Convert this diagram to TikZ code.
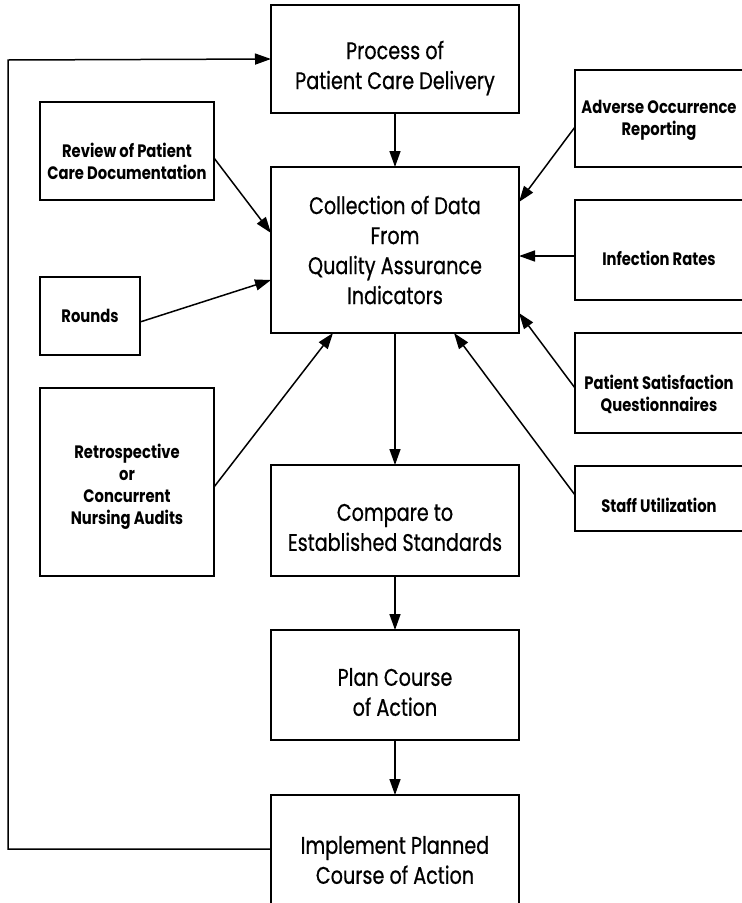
\documentclass[tikz,border=0pt]{standalone}
\usepackage{fontspec}
\setmainfont{Poppins}
\newfontfamily\bigface[FakeStretch=0.8,FakeBold=0.6]{Poppins}
\newfontfamily\smallface[FakeStretch=0.82]{Poppins}
\usetikzlibrary{arrows.meta}
\begin{document}
\begin{tikzpicture}[x=1pt,y=-1pt,
  box/.style={draw, line width=1.5pt, inner sep=0pt, outer sep=0pt},
  mainbox/.style={box, minimum width=248pt},
  sidebox/.style={box},
  maintext/.style={align=center, inner sep=0pt, font=\bigface\fontsize{24}{30}\selectfont},
  sidetext/.style={align=center, inner sep=0pt, font=\smallface\bfseries\fontsize{18}{22}\selectfont},
  flow/.style={line width=1.5pt, -{Triangle[length=16pt,width=11pt]}}]
\useasboundingbox (0,0) rectangle (742,903);
\clip (0,0) rectangle (742,903);

% main column
\node[mainbox, minimum height=108pt] (proc) at (395,59) {};
\node[mainbox, minimum height=166pt] (coll) at (395,250) {};
\node[mainbox, minimum height=111pt] (comp) at (395,520.5) {};
\node[mainbox, minimum height=110pt] (plan) at (395,685) {};
\node[mainbox, minimum height=130pt] (impl) at (395,860) {};

\node[maintext] (proc-t) at ([yshift=-9pt]proc.center) {Process of\\Patient Care Delivery};
\node[maintext] (coll-t) at ([yshift=0pt]coll.center) {Collection of Data\\From\\Quality Assurance\\Indicators};
\node[maintext] (comp-t) at ([yshift=-7pt]comp.center) {Compare to\\Established Standards};
\node[maintext] (plan-t) at ([yshift=-7pt]plan.center) {Plan Course\\of Action};
\node[maintext] (impl-t) at ([yshift=0pt]impl.center) {Implement Planned\\Course of Action};

% data sources on the left
\node[sidebox, minimum width=174pt, minimum height=98pt] (review) at (127,151) {};
\node[sidebox, minimum width=100pt, minimum height=78pt] (rounds) at (90,316) {};
\node[sidebox, minimum width=174pt, minimum height=188pt] (retro) at (127,482) {};

\node[sidetext] (review-t) at ([yshift=-10pt]review.center) {Review of Patient\\Care Documentation};
\node[sidetext] (rounds-t) at (rounds.center) {Rounds};
\node[sidetext] (retro-t) at ([yshift=-5pt]retro.center) {Retrospective\\or\\Concurrent\\Nursing Audits};

% data sources on the right
\node[sidebox, minimum width=168pt, minimum height=97pt] (adverse) at (659,118.5) {};
\node[sidebox, minimum width=168pt, minimum height=100pt] (infect) at (659,250) {};
\node[sidebox, minimum width=168pt, minimum height=100pt] (satisf) at (659,383) {};
\node[sidebox, minimum width=168pt, minimum height=65pt] (staff) at (659,498.5) {};

\node[sidetext] (adverse-t) at ([yshift=-2pt]adverse.center) {Adverse Occurrence\\Reporting};
\node[sidetext] (infect-t) at ([yshift=-8pt]infect.center) {Infection Rates};
\node[sidetext] (satisf-t) at ([yshift=-11pt]satisf.center) {Patient Satisfaction\\Questionnaires};
\node[sidetext] (staff-t) at ([yshift=-7pt]staff.center) {Staff Utilization};

% main flow
\draw[flow] (proc.south) -- (coll.north);
\draw[flow] (coll.south) -- (comp.north);
\draw[flow] (comp.south) -- (plan.north);
\draw[flow] (plan.south) -- (impl.north);

% inputs to data collection
\draw[flow] ([yshift=-7pt]review.east) -- ([yshift=17pt]coll.west);
\draw[flow] ([yshift=-6pt]rounds.east) -- ([yshift=-30pt]coll.west);
\draw[flow] ([yshift=-5pt]retro.east) -- ([xshift=-62pt]coll.south);
\draw[flow] ([yshift=-8.5pt]adverse.west) -- ([yshift=48pt]coll.east);
\draw[flow] ([yshift=-6pt]infect.west) -- ([yshift=-6pt]coll.east);
\draw[flow] ([yshift=-5pt]satisf.west) -- ([yshift=-63pt]coll.east);
\draw[flow] ([yshift=3.5pt]staff.west) -- ([xshift=59pt]coll.south);

% feedback loop
\coordinate (loop) at (8,60);
\draw[flow] ([yshift=11pt]impl.west) -| (loop) -- (proc.west);
\end{tikzpicture}
\end{document}
